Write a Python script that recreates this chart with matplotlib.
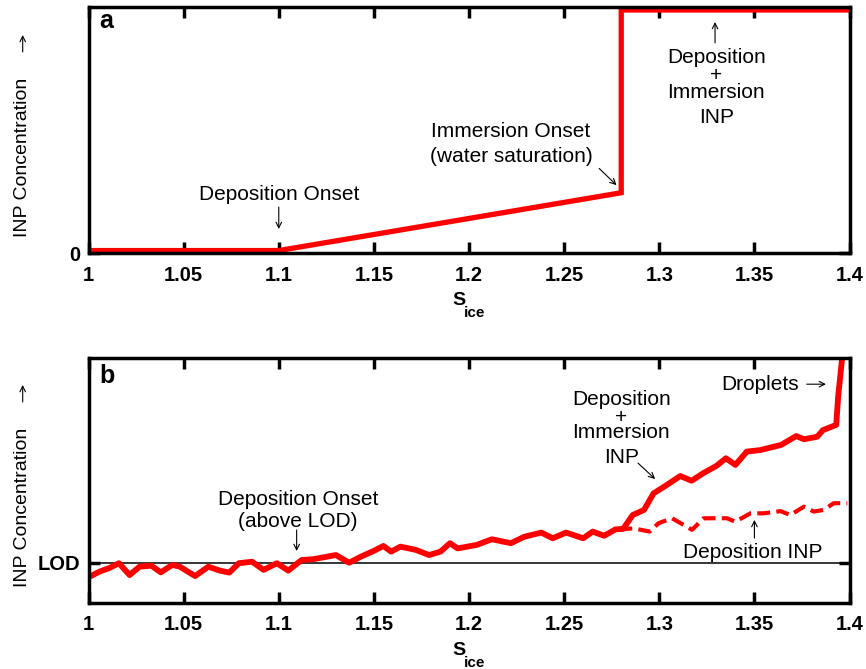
import matplotlib
matplotlib.use('Agg')
import matplotlib.pyplot as plt

plt.rcParams['font.family'] = ['Liberation Sans', 'DejaVu Sans']

# panel a: idealised INP spectrum
s_a = [1.0, 1.10, 1.28, 1.28, 1.40]
inp_a = [0.01, 0.01, 0.245, 0.988, 0.988]

# panel b: measured deposition + immersion INP
s_b = [1.0005, 1.0058, 1.0111, 1.016, 1.0216, 1.0268, 1.033, 1.038, 1.044, 1.048,
       1.056, 1.063, 1.069, 1.074, 1.079, 1.086, 1.092, 1.099, 1.105, 1.112,
       1.118, 1.125, 1.130, 1.137, 1.143, 1.150, 1.155, 1.159, 1.164, 1.172,
       1.179, 1.185, 1.190, 1.194, 1.204, 1.212, 1.222, 1.229, 1.238, 1.244,
       1.251, 1.260, 1.265, 1.271, 1.277, 1.281, 1.286, 1.292, 1.297, 1.304,
       1.311, 1.317, 1.323, 1.330, 1.335, 1.340, 1.346, 1.353, 1.364, 1.372,
       1.376, 1.383, 1.386, 1.393, 1.394, 1.396, 1.3965]
inp_b = [0.106, 0.127, 0.142, 0.161, 0.113, 0.147, 0.151, 0.124, 0.154, 0.147,
         0.109, 0.147, 0.131, 0.123, 0.161, 0.167, 0.134, 0.161, 0.131, 0.174,
         0.177, 0.187, 0.194, 0.163, 0.187, 0.211, 0.231, 0.208, 0.228, 0.215,
         0.194, 0.208, 0.242, 0.221, 0.235, 0.258, 0.242, 0.268, 0.285, 0.262,
         0.285, 0.262, 0.289, 0.272, 0.298, 0.300, 0.356, 0.377, 0.444, 0.478,
         0.514, 0.495, 0.525, 0.555, 0.586, 0.559, 0.613, 0.619, 0.640, 0.676,
         0.663, 0.673, 0.700, 0.721, 0.835, 0.984, 1.08]

# panel b: deposition-only INP (dashed)
s_dep = [1.279, 1.2865, 1.295, 1.2996, 1.3067, 1.3128, 1.3172, 1.3233, 1.3304, 1.3356,
         1.340, 1.3479, 1.3549, 1.3637, 1.3689, 1.376, 1.3812, 1.3865, 1.3917, 1.3988]
inp_dep = [0.298, 0.302, 0.289, 0.323, 0.343, 0.316, 0.296, 0.343, 0.343, 0.343,
           0.329, 0.363, 0.363, 0.372, 0.356, 0.390, 0.370, 0.377, 0.404, 0.404]

lod = 0.162

xticks = [1.0, 1.05, 1.1, 1.15, 1.2, 1.25, 1.3, 1.35, 1.4]
xticklabels = ['1', '1.05', '1.1', '1.15', '1.2', '1.25', '1.3', '1.35', '1.4']

fs = 15
red = '#ff0000'
arrow = dict(arrowstyle='->', lw=0.8, color='black', shrinkA=0, shrinkB=0)

fig = plt.figure(figsize=(8.66, 6.69), dpi=100)
ax1 = fig.add_axes([0.1022, 0.6218, 0.8788, 0.3677])
ax2 = fig.add_axes([0.1022, 0.0987, 0.8788, 0.3662])


def style_axes(ax, sy):
    for sp in ax.spines.values():
        sp.set_linewidth(2.5)
        sp.set_zorder(5)
    ax.set_xlim(1.0, 1.4)
    ax.set_xticks(xticks)
    ax.set_xticklabels(xticklabels, fontweight='bold', fontsize=14.5)
    ax.tick_params(axis='both', direction='in', length=8, width=2.5,
                   top=True, right=True, pad=9)
    ax.tick_params(axis='y', pad=6)
    for lab in ax.get_yticklabels():
        lab.set_fontweight('bold')
        lab.set_fontsize(14.5)
    # S_ice axis label, subscript set low as in the original
    ax.text(0.4777, sy, 'S', transform=ax.transAxes, fontsize=14,
            fontweight='bold', va='baseline', ha='left')
    ax.text(0.4934, sy - 0.049, 'ice', transform=ax.transAxes, fontsize=11,
            fontweight='bold', va='baseline', ha='left')


# ---- panel a ----
ax1.plot(s_a, inp_a, color=red, lw=3.8, zorder=3, solid_joinstyle='miter')
ax1.set_ylim(0, 1)
ax1.set_yticks([0])
ax1.set_yticklabels(['0'])
style_axes(ax1, -0.2114)
ta = ax1.get_xaxis_transform()
ax1.text(0.0138, 0.915, 'a', transform=ax1.transAxes, fontsize=18,
         fontweight='bold', va='baseline')
ax1.text(1.1, 0.2175, 'Deposition Onset', transform=ta, ha='center', va='baseline', fontsize=fs)
ax1.annotate('', xy=(1.1, 0.0976), xytext=(1.1, 0.187), xycoords=ta, arrowprops=arrow)
ax1.text(1.222, 0.47, 'Immersion Onset', transform=ta, ha='center', va='baseline', fontsize=fs)
ax1.text(1.222, 0.371, '(water saturation)', transform=ta, ha='center', va='baseline', fontsize=fs)
ax1.annotate('', xy=(1.2775, 0.276), xytext=(1.2684, 0.344), xycoords=ta, arrowprops=arrow)
ax1.annotate('', xy=(1.3293, 0.939), xytext=(1.3293, 0.854), xycoords=ta, arrowprops=arrow)
ax1.text(1.33, 0.772, 'Deposition', transform=ta, ha='center', va='baseline', fontsize=fs)
ax1.text(1.33, 0.72, '+', transform=ta, ha='center', va='center', fontsize=fs)
ax1.text(1.33, 0.630, 'Immersion', transform=ta, ha='center', va='baseline', fontsize=fs)
ax1.text(1.33, 0.528, 'INP', transform=ta, ha='center', va='baseline', fontsize=fs)

# ---- panel b ----
ax2.axhline(lod, color='black', lw=1.1, zorder=1)
ax2.plot(s_dep, inp_dep, color=red, lw=3.0, ls=(0, (3.1, 1.5)), zorder=2)
ax2.plot(s_b, inp_b, color=red, lw=4.2, zorder=3)
ax2.set_ylim(0, 0.992)
ax2.set_yticks([lod])
ax2.set_yticklabels(['LOD'])
style_axes(ax2, -0.2122)
tb = ax2.get_xaxis_transform()
ax2.text(0.0138, 0.898, 'b', transform=ax2.transAxes, fontsize=18,
         fontweight='bold', va='baseline')
ax2.text(1.110, 0.40, 'Deposition Onset', transform=tb, ha='center', va='baseline', fontsize=fs)
ax2.text(1.110, 0.31, '(above LOD)', transform=tb, ha='center', va='baseline', fontsize=fs)
ax2.annotate('', xy=(1.1094, 0.212), xytext=(1.1094, 0.298), xycoords=tb, arrowprops=arrow)
ax2.text(1.28, 0.808, 'Deposition', transform=tb, ha='center', va='baseline', fontsize=fs)
ax2.text(1.28, 0.757, '+', transform=tb, ha='center', va='center', fontsize=fs)
ax2.text(1.28, 0.673, 'Immersion', transform=tb, ha='center', va='baseline', fontsize=fs)
ax2.text(1.28, 0.571, 'INP', transform=tb, ha='center', va='baseline', fontsize=fs)
ax2.annotate('', xy=(1.2978, 0.506), xytext=(1.2888, 0.571), xycoords=tb, arrowprops=arrow)
ax2.text(1.3328, 0.869, 'Droplets', transform=tb, ha='left', va='baseline', fontsize=fs)
ax2.annotate('', xy=(1.3876, 0.893), xytext=(1.3775, 0.893), xycoords=tb, arrowprops=arrow)
ax2.text(1.3493, 0.184, 'Deposition INP', transform=tb, ha='center', va='baseline', fontsize=fs)
ax2.annotate('', xy=(1.35, 0.339), xytext=(1.35, 0.265), xycoords=tb, arrowprops=arrow)

# y labels with separate upward arrows
for yc, ya0, ya1 in ((157.5, 52, 35), (507.5, 402, 385)):
    fig.text(23 / 866, 1 - yc / 669, 'INP Concentration', rotation=90,
             ha='center', va='center', fontsize=14)
    fig.add_artist(plt.matplotlib.patches.FancyArrowPatch(
        (22.7 / 866, 1 - ya0 / 669), (22.7 / 866, 1 - ya1 / 669),
        transform=fig.transFigure, arrowstyle='->', mutation_scale=10,
        lw=0.8, color='black', shrinkA=0, shrinkB=0))

fig.savefig('out.png', dpi=100)
